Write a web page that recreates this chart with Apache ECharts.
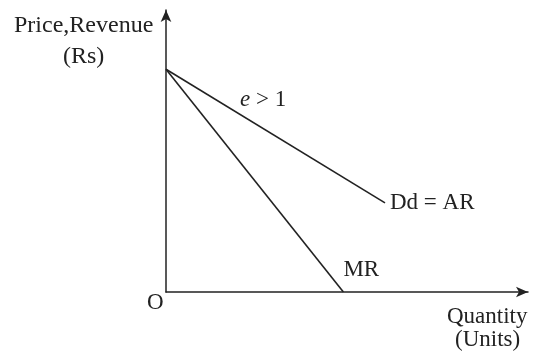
<!DOCTYPE html>
<html>
<head>
<meta charset="utf-8">
<script src="https://cdn.jsdelivr.net/npm/echarts@6/dist/echarts.min.js"></script>
<style>
html,body{margin:0;padding:0;background:#fff;}
#pic_chart{width:537px;height:354px;}
</style>
</head>
<body>
<div id="pic_chart"></div>
<script>
// demand (AR) and marginal revenue lines, arbitrary units on 0..100 axes
var demandLine = [[0, 79], [60.5, 31.6]];
var mrLine = [[0, 79], [49, 0]];
var lineNames = ['Dd = AR', 'MR'];

var font = 'Liberation Serif, Times New Roman, serif';
var ink = '#222';

var myChart = echarts.init(document.getElementById('pic_chart'));
var option = {
    backgroundColor: '#fff',
    animation: false,
    grid: {
        left: 166,
        right: 9,
        top: 10,
        bottom: 62
    },
    xAxis: {
        type: 'value',
        min: 0,
        max: 100,
        axisLine: {
            show: true,
            symbol: ['none', 'arrow'],
            symbolSize: [8, 12],
            lineStyle: { color: ink, width: 1.5 }
        },
        axisTick: { show: false },
        axisLabel: { show: false },
        splitLine: { show: false }
    },
    yAxis: {
        type: 'value',
        min: 0,
        max: 100,
        axisLine: {
            show: true,
            symbol: ['none', 'arrow'],
            symbolSize: [8, 12],
            lineStyle: { color: ink, width: 1.5 }
        },
        axisTick: { show: false },
        axisLabel: { show: false },
        splitLine: { show: false }
    },
    series: [
        {
            name: lineNames[0],
            type: 'line',
            data: demandLine,
            symbol: 'none',
            lineStyle: { color: ink, width: 1.6 },
            endLabel: {
                show: true,
                formatter: lineNames[0],
                distance: 5,
                color: ink,
                fontFamily: font,
                fontSize: 23
            }
        },
        {
            name: lineNames[1],
            type: 'line',
            data: mrLine,
            symbol: 'none',
            lineStyle: { color: ink, width: 1.6 },
            endLabel: {
                show: true,
                formatter: lineNames[1],
                offset: [-8, -22],
                color: ink,
                fontFamily: font,
                fontSize: 23
            }
        }
    ],
    graphic: [
        { type: 'text', left: 14, top: 14, style: { text: 'Price,Revenue', font: '24px ' + font, fill: ink } },
        { type: 'text', left: 63, top: 45, style: { text: '(Rs)', font: '24px ' + font, fill: ink } },
        { type: 'text', left: 147, top: 291, style: { text: 'O', font: '23px ' + font, fill: ink } },
        { type: 'text', left: 447, top: 305, style: { text: 'Quantity', font: '23px ' + font, fill: ink } },
        { type: 'text', left: 455, top: 328, style: { text: '(Units)', font: '23px ' + font, fill: ink } },
        {
            type: 'text', left: 240, top: 88,
            style: {
                text: '{i|e} > 1',
                font: '23px ' + font,
                fill: ink,
                rich: { i: { fontStyle: 'italic', fontFamily: font, fontSize: 23, color: ink } }
            }
        }
    ]
};
myChart.setOption(option);
</script>
</body>
</html>
